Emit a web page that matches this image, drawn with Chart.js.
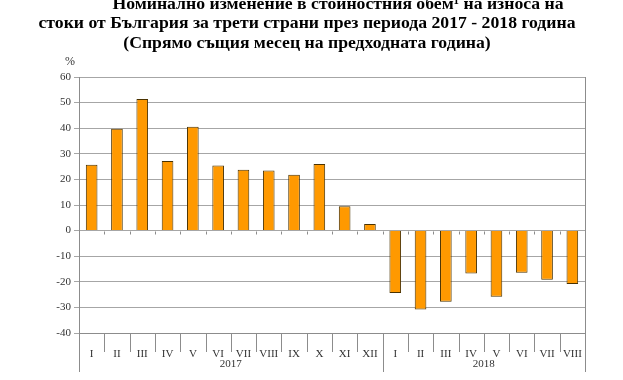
<!DOCTYPE html>
<html>
<head>
<meta charset="utf-8">
<script src="https://cdn.jsdelivr.net/npm/chart.js@4"></script>
<style>
  html, body { margin: 0; padding: 0; background: #fff; }
  #wrap { width: 623px; height: 380px; }
</style>
</head>
<body>
<div id="wrap"><canvas id="myChart" width="623" height="380"></canvas></div>
<script>
  const months = ["I", "II", "III", "IV", "V", "VI", "VII", "VIII", "IX", "X", "XI", "XII",
                  "I", "II", "III", "IV", "V", "VI", "VII", "VIII"];
  const years = ["2017", "2018"];
  const yearSizes = [12, 8];
  const change = [25.7, 39.8, 51.4, 27.2, 40.6, 25.4, 23.8, 23.5, 21.8, 26.0, 9.5, 2.6,
                  -24.4, -30.8, -27.8, -16.8, -25.8, -16.5, -19.2, -20.9];
  const titleLines = [
    "Номинално изменение в стойностния обем¹ на износа на",
    "стоки от България за трети страни през периода 2017 - 2018 година",
    "(Спрямо същия месец на предходната година)"
  ];

  const serif = "'Liberation Serif', 'Times New Roman', serif";

  const extras = {
    id: "extras",
    afterDraw(chart) {
      const c = chart.ctx;
      const x = chart.scales.x;
      const y = chart.scales.y;
      const half = (x.getPixelForValue(1) - x.getPixelForValue(0)) / 2;
      const zeroY = Math.round(y.getPixelForValue(0)) + 0.5;
      c.save();
      c.strokeStyle = "#8c8c8c";
      c.lineWidth = 1;
      // category separators under the axis
      const groupEdges = [0];
      yearSizes.forEach((n, k) => groupEdges.push(groupEdges[k] + n));
      for (let i = 0; i <= months.length; i++) {
        const bx = Math.round(x.getPixelForValue(i) - half) + 0.5;
        const bottom = groupEdges.includes(i) ? 372 : 352;
        c.beginPath();
        c.moveTo(bx, y.bottom);
        c.lineTo(bx, bottom);
        c.stroke();
        c.beginPath();
        c.moveTo(bx, zeroY);
        c.lineTo(bx, zeroY + 3);
        c.stroke();
      }
      // right border of the plot
      c.beginPath();
      c.moveTo(Math.round(x.right) + 0.5, y.top);
      c.lineTo(Math.round(x.right) + 0.5, y.bottom);
      c.stroke();
      // year labels
      c.fillStyle = "#333";
      c.font = "11px " + serif;
      c.textAlign = "center";
      c.textBaseline = "middle";
      years.forEach((yr, k) => {
        const a = x.getPixelForValue(groupEdges[k]) - half;
        const b = x.getPixelForValue(groupEdges[k + 1]) - half;
        c.fillText(yr, (a + b) / 2, 364);
      });
      // unit
      c.font = "12px " + serif;
      c.fillText("%", 70, 62);
      // title
      c.fillStyle = "#000";
      c.font = "bold 17.7px " + serif;
      const tx = [338, 307, 307];
      const ty = [4, 23, 43];
      titleLines.forEach((t, k) => c.fillText(t, tx[k], ty[k]));
      c.restore();
    }
  };

  const ctx = document.getElementById("myChart");

  new Chart(ctx, {
    type: "bar",
    data: {
      labels: months,
      datasets: [
        {
          data: change,
          backgroundColor: "#FF9900",
          borderColor: "#4a3200",
          borderWidth: 1,
          barPercentage: 0.46,
          categoryPercentage: 1,
        },
      ],
    },
    options: {
      responsive: false,
      animation: false,
      layout: { padding: { top: 77, right: 38, left: 0, bottom: 0 } },
      plugins: {
        legend: { display: false },
        tooltip: { enabled: false },
      },
      scales: {
        x: {
          grid: { display: false },
          border: { display: true, color: "#8c8c8c" },
          ticks: {
            color: "#333",
            font: { family: serif, size: 11 },
            padding: 7,
            maxRotation: 0,
            autoSkip: false,
          },
          afterFit(scale) { scale.height = 47; },
        },
        y: {
          min: -40,
          max: 60,
          ticks: {
            stepSize: 10,
            color: "#333",
            font: { family: serif, size: 11 },
            padding: 3,
          },
          grid: { color: "#a6a6a6", tickLength: 5 },
          border: { color: "#8c8c8c" },
          afterFit(scale) { scale.width = 79; },
        },
      },
    },
    plugins: [extras],
  });
</script>
</body>
</html>
